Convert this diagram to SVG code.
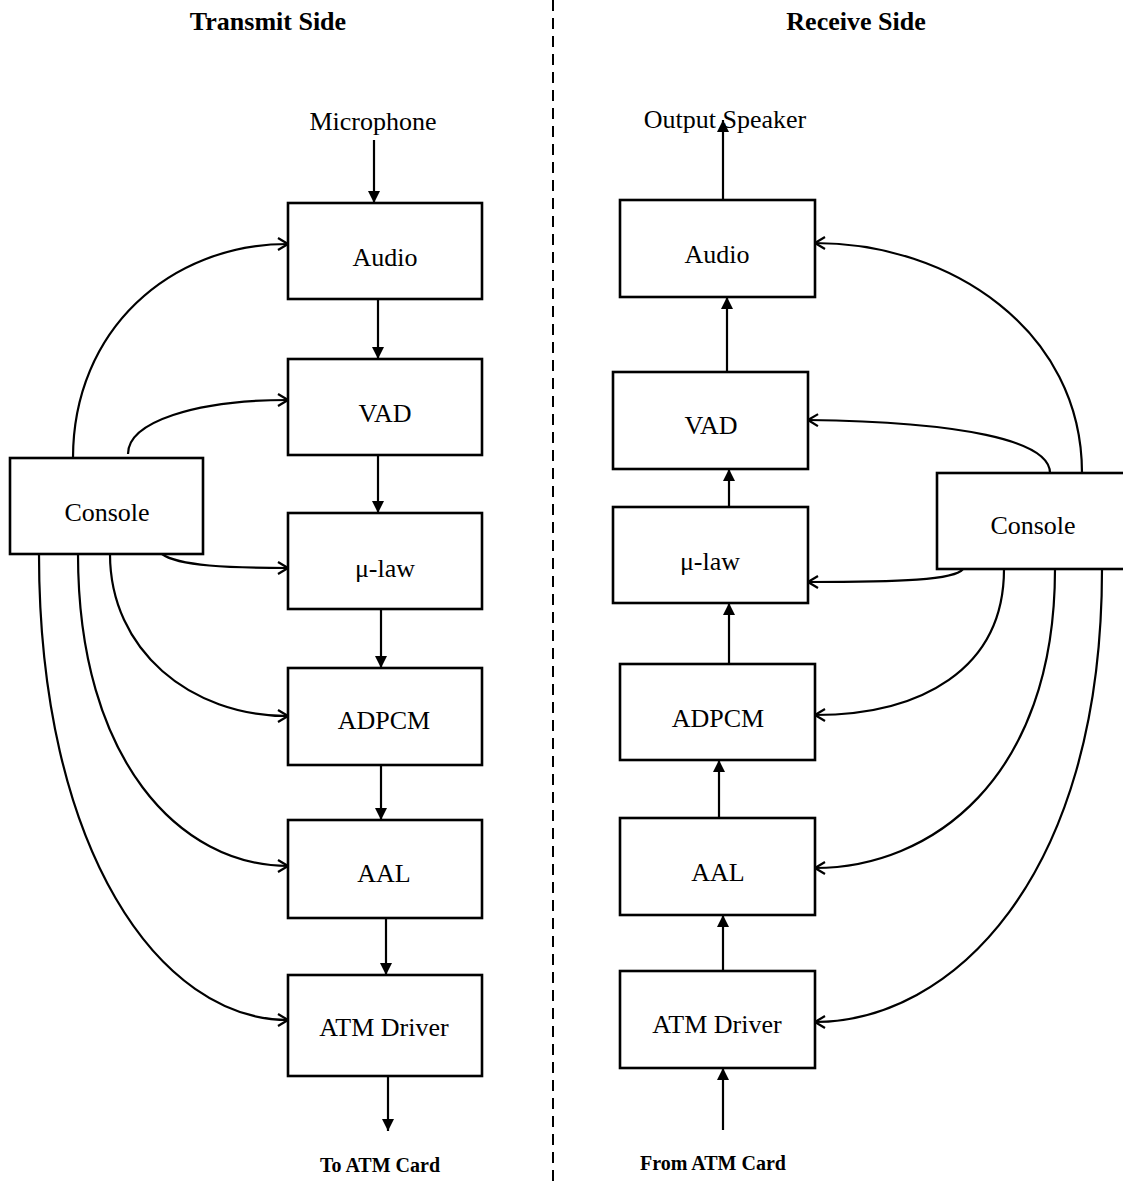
<svg xmlns="http://www.w3.org/2000/svg" width="1123" height="1186" viewBox="0 0 1123 1186">
  <style>
    .box { fill: #fff; stroke: #000; stroke-width: 2.6; }
    .lbl { font-family: "Liberation Serif", "Times New Roman", serif; font-size: 26px; fill: #000; text-anchor: middle; }
    .ttl { font-family: "Liberation Serif", "Times New Roman", serif; font-size: 26px; font-weight: bold; fill: #000; text-anchor: middle; }
    .sm { font-family: "Liberation Serif", "Times New Roman", serif; font-size: 20px; font-weight: bold; fill: #000; text-anchor: middle; }
    .flow { fill: none; stroke: #000; stroke-width: 2.2; marker-end: url(#solid); }
    .ctl { fill: none; stroke: #000; stroke-width: 2.2; marker-end: url(#open); }
    .divider { stroke: #000; stroke-width: 2; stroke-dasharray: 11 7; }
  </style>
  <defs>
    <marker id="solid" viewBox="0 0 12 12" refX="12" refY="6" markerWidth="12" markerHeight="12" markerUnits="userSpaceOnUse" orient="auto">
      <path d="M0,0 L12,6 L0,12 Z" fill="#000"/>
    </marker>
    <marker id="open" viewBox="0 0 12 14" refX="11" refY="7" markerWidth="12" markerHeight="14" markerUnits="userSpaceOnUse" orient="auto">
      <path d="M1,1 L11,7 L1,13" fill="none" stroke="#000" stroke-width="2.2"/>
    </marker>
  </defs>

  <rect width="1123" height="1186" fill="#fff"/>

  <!-- section headings and divider -->
  <text class="ttl" x="268" y="30">Transmit Side</text>
  <text class="ttl" x="856" y="30">Receive Side</text>
  <line class="divider" x1="553" y1="0" x2="553" y2="1186"/>

  <!-- endpoint labels -->
  <text class="lbl" x="373" y="130">Microphone</text>
  <text class="lbl" x="725" y="128">Output Speaker</text>
  <text class="sm" x="380" y="1172">To ATM Card</text>
  <text class="sm" x="713" y="1170">From ATM Card</text>

  <g id="connectors">
    <!-- transmit chain -->
    <path class="flow" d="M374,140 L374,203"/>
    <path class="flow" d="M378,299 L378,359"/>
    <path class="flow" d="M378,455 L378,513"/>
    <path class="flow" d="M381,609 L381,668"/>
    <path class="flow" d="M381,765 L381,820"/>
    <path class="flow" d="M386,918 L386,975"/>
    <path class="flow" d="M388,1076 L388,1131"/>
    <!-- transmit console controls -->
    <path class="ctl" d="M73,458 C73,330 170,244 288,244"/>
    <path class="ctl" d="M128,454 C128,422 195,400 288,400"/>
    <path class="ctl" d="M162,554 C178,566 230,568 288,568"/>
    <path class="ctl" d="M110,554 C110,650 190,716 288,716"/>
    <path class="ctl" d="M78,554 C78,760 180,866 288,866"/>
    <path class="ctl" d="M39,554 C39,850 160,1020 288,1020"/>

    <!-- receive chain -->
    <path class="flow" d="M723,200 L723,120"/>
    <path class="flow" d="M727,372 L727,297"/>
    <path class="flow" d="M729,507 L729,469"/>
    <path class="flow" d="M729,664 L729,603"/>
    <path class="flow" d="M719,818 L719,760"/>
    <path class="flow" d="M723,971 L723,915"/>
    <path class="flow" d="M723,1130 L723,1068"/>
    <!-- receive console controls -->
    <path class="ctl" d="M1082,473 C1082,330 950,243 815,243"/>
    <path class="ctl" d="M1050,473 C1050,440 960,422 808,420"/>
    <path class="ctl" d="M963,569 C955,580 900,582 808,582"/>
    <path class="ctl" d="M1004,569 C1004,670 920,715 815,715"/>
    <path class="ctl" d="M1055,569 C1055,780 930,868 815,868"/>
    <path class="ctl" d="M1102,569 C1102,880 950,1022 815,1022"/>
  </g>

  <!-- transmit side nodes -->
  <g id="tx-audio"><rect class="box" x="288" y="203" width="194" height="96"/><text class="lbl" x="385" y="266">Audio</text></g>
  <g id="tx-vad"><rect class="box" x="288" y="359" width="194" height="96"/><text class="lbl" x="385" y="422">VAD</text></g>
  <g id="tx-mulaw"><rect class="box" x="288" y="513" width="194" height="96"/><text class="lbl" x="385" y="577">μ-law</text></g>
  <g id="tx-adpcm"><rect class="box" x="288" y="668" width="194" height="97"/><text class="lbl" x="384" y="729">ADPCM</text></g>
  <g id="tx-aal"><rect class="box" x="288" y="820" width="194" height="98"/><text class="lbl" x="384" y="882">AAL</text></g>
  <g id="tx-atm"><rect class="box" x="288" y="975" width="194" height="101"/><text class="lbl" x="384" y="1036">ATM Driver</text></g>
  <g id="tx-console"><rect class="box" x="10" y="458" width="193" height="96"/><text class="lbl" x="107" y="521">Console</text></g>

  <!-- receive side nodes -->
  <g id="rx-audio"><rect class="box" x="620" y="200" width="195" height="97"/><text class="lbl" x="717" y="263">Audio</text></g>
  <g id="rx-vad"><rect class="box" x="613" y="372" width="195" height="97"/><text class="lbl" x="711" y="434">VAD</text></g>
  <g id="rx-mulaw"><rect class="box" x="613" y="507" width="195" height="96"/><text class="lbl" x="710" y="570">μ-law</text></g>
  <g id="rx-adpcm"><rect class="box" x="620" y="664" width="195" height="96"/><text class="lbl" x="718" y="727">ADPCM</text></g>
  <g id="rx-aal"><rect class="box" x="620" y="818" width="195" height="97"/><text class="lbl" x="718" y="881">AAL</text></g>
  <g id="rx-atm"><rect class="box" x="620" y="971" width="195" height="97"/><text class="lbl" x="717" y="1033">ATM Driver</text></g>
  <g id="rx-console"><rect class="box" x="937" y="473" width="200" height="96"/><text class="lbl" x="1033" y="534">Console</text></g>
</svg>
